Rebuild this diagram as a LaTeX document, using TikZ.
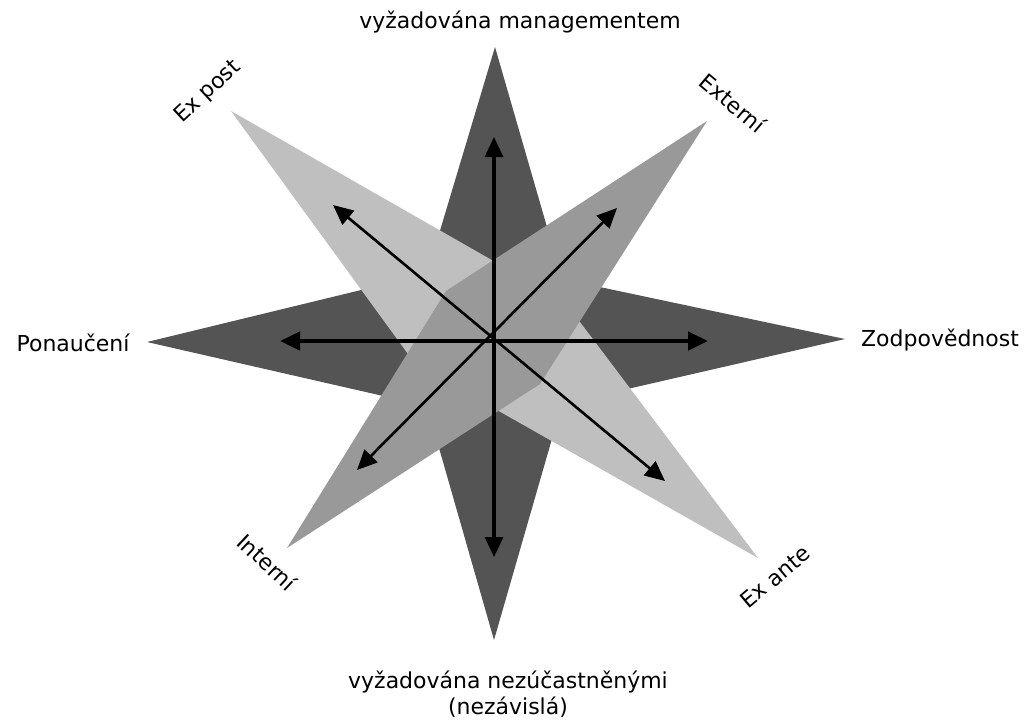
\documentclass[tikz,border=0pt]{standalone}
\usepackage{fontspec}
\setmainfont{DejaVu Sans}
\usetikzlibrary{arrows.meta}
\tikzset{
  >={Triangle[length=4mm,width=3.6mm]},
  darkpart/.style={fill=black!67},
  midpart/.style={fill=black!40},
  lightpart/.style={fill=black!25},
  axis/.style={<->,line width=2.2pt},
  diag/.style={<->,line width=1.5pt},
  lbl/.style={font=\fontsize{12.5}{15}\selectfont,inner sep=0pt,align=center}
}
\begin{document}
\begin{tikzpicture}[x=0.2mm,y=-0.2mm]
\useasboundingbox (0,0) rectangle (1025,722);
% shapes, back to front
\fill[darkpart](495,47)--(562,279)--(845,339)--(562,404)--(494,640)--(427,406)--(147,342)--(427,274)--cycle;
\fill[lightpart](231,111)--(490,259)--(580,322)--(758,558)--(497,410)--(408,354)--cycle;
\fill[midpart](707,121)--(540,384)--(287,548)--(446,291)--cycle;
% arrow ends
\coordinate(top)at(494,137);
\coordinate(bot)at(494,557);
\coordinate(lft)at(280,341);
\coordinate(rgt)at(708,341);
\coordinate(post)at(333,205);
\coordinate(ante)at(665,481);
\coordinate(ext)at(617,208);
\coordinate(int)at(357,470);
\draw[diag](post)--(ante);
\draw[diag](ext)--(int);
\draw[axis,line width=1.8pt](top)--(bot);
\draw[axis,line width=2.6pt](lft)--(rgt);
% labels
\node[lbl](mgmt)at(520,22){vyžadována managementem};
\node[lbl](nez)at(508,694){vyžadována nezúčastněnými\\(nezávislá)};
\node[lbl](pon)at(73,343){Ponaučení};
\node[lbl](zod)at(940,340){Zodpovědnost};
\node[lbl,rotate=43](expost)at(208,92){Ex post};
\node[lbl,rotate=40](exante)at(775,577){Ex ante};
\node[lbl,rotate=-40](exter)at(733,103){Externí};
\node[lbl,rotate=-43](inter)at(267,562){Interní};
\end{tikzpicture}
\end{document}
